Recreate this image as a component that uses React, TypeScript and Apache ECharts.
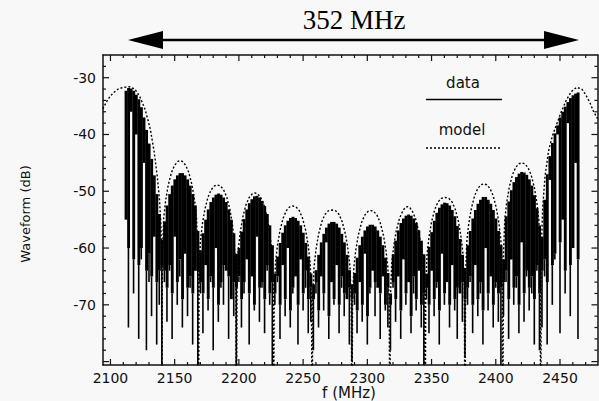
import React, { useEffect, useRef } from "react";
import * as echarts from "echarts";

// ---- data ----
const DATA_START = 2112; // MHz, first spectral line sample
const DATA_STEP = 2; // MHz between samples

// top of each spectral-line sample (dB), lobe by lobe
const dataTop = [
  -32.3, -31.8, -31.9, -32.3, -33.0, -33.8, -35.2, -37.0, -39.2, -41.6, -44.3, -47.2, -50.5, -54.0, -58.5,
  -55.3, -52.5, -50.5, -49.0, -47.9, -47.2, -46.8, -46.8, -47.2, -47.9, -49.0, -50.5, -52.5, -57.0,
  -60.4, -57.4, -55.0, -53.2, -51.9, -51.1, -50.6, -50.4, -50.6, -51.1, -51.9, -53.2, -55.0, -57.4, -61.0,
  -60.0, -57.1, -54.9, -53.2, -52.1, -51.4, -50.9, -50.8, -51.1, -51.7, -52.6, -54.0, -56.0, -59.5,
  -64.5, -61.5, -59.1, -57.3, -56.0, -55.2, -54.7, -54.5, -54.7, -55.2, -56.0, -57.3, -59.1, -61.5, -64.5,
  -66.4, -63.9, -61.2, -59.0, -57.5, -56.4, -55.7, -55.4, -55.4, -55.7, -56.4, -57.5, -59.0, -61.2, -63.9, -66.4,
  -64.4, -61.7, -59.5, -58.0, -56.9, -56.2, -55.9, -55.9, -56.2, -56.9, -58.0, -59.5, -61.7, -64.4,
  -68.0, -61.1, -58.7, -56.9, -55.6, -54.8, -54.3, -54.1, -54.3, -54.8, -55.6, -56.9, -58.7, -61.1,
  -64.5, -59.8, -57.2, -55.2, -53.8, -52.9, -52.3, -52.0, -52.1, -52.5, -53.3, -54.4, -56.1, -58.4, -61.2, -63.5,
  -59.5, -57.0, -54.8, -53.3, -52.2, -51.5, -51.0, -51.0, -51.5, -52.2, -53.3, -54.8, -57.0, -59.5,
  -62.0, -54.4, -51.8, -49.8, -48.4, -47.5, -46.9, -46.6, -46.7, -47.1, -47.9, -49.0, -50.7, -53.0, -56.0,
  -58.0, -51.5, -47.0, -43.8, -41.5, -39.8, -38.4, -37.0, -36.0, -35.1, -34.3, -33.6, -33.1, -32.8, -32.6,
];

// level down to which the dense lines merge into solid black (dB)
const dataSolid = [
  -56, -60, -58, -62, -57, -63, -60, -59, -64, -61, -65, -62, -66, -64, -63,
  -64, -67, -63, -68, -65, -66, -62, -69, -64, -67, -65, -68, -66, -64,
  -66, -68, -63, -69, -65, -67, -64, -70, -66, -63, -68, -65, -69, -66, -67,
  -65, -69, -66, -63, -68, -65, -70, -64, -67, -66, -69, -63, -68, -66,
  -68, -65, -70, -66, -69, -64, -71, -67, -65, -70, -66, -68, -64, -69, -67,
  -69, -66, -71, -67, -68, -65, -72, -66, -69, -67, -70, -65, -68, -71, -67, -69,
  -68, -71, -66, -70, -65, -72, -67, -69, -66, -71, -68, -65, -70, -67,
  -70, -66, -69, -65, -71, -67, -68, -66, -72, -65, -69, -67, -70, -68,
  -67, -70, -65, -69, -66, -71, -64, -68, -66, -70, -65, -69, -67, -71, -66, -69,
  -67, -65, -70, -64, -69, -66, -71, -63, -68, -65, -70, -66, -68, -67,
  -66, -64, -69, -63, -67, -65, -70, -62, -68, -64, -67, -65, -69, -63, -68,
  -64, -62, -66, -60, -63, -61, -65, -59, -62, -64, -60, -63, -61, -58, -62,
];

// lowest point reached by each spectral-line sample (dB)
const dataBottom = [
  -55, -74, -36, -68, -40, -76, -62, -45, -78, -66, -72, -58, -77, -70, -82,
  -66, -73, -64, -76, -58, -70, -65, -74, -61, -72, -67, -77, -64, -82,
  -68, -75, -63, -71, -66, -78, -60, -73, -67, -70, -64, -76, -69, -72, -82,
  -66, -74, -68, -62, -77, -65, -71, -58, -73, -67, -75, -64, -70, -82,
  -70, -66, -76, -63, -72, -60, -74, -68, -65, -77, -62, -71, -67, -75, -73,
  -78, -68, -74, -65, -71, -59, -76, -66, -70, -63, -75, -67, -72, -69, -77, -80,
  -70, -75, -66, -73, -61, -77, -68, -64, -72, -67, -76, -65, -71, -74,
  -78, -67, -73, -65, -76, -62, -70, -66, -75, -68, -71, -64, -74, -82,
  -69, -75, -64, -72, -67, -77, -61, -70, -66, -74, -63, -71, -76, -68, -73, -79,
  -70, -66, -75, -63, -72, -68, -77, -60, -71, -65, -74, -67, -73, -82,
  -72, -66, -76, -62, -70, -67, -75, -59, -73, -65, -71, -68, -77, -64, -78,
  -74, -65, -77, -48, -70, -62, -40, -75, -55, -68, -38, -72, -60, -45, -76,
];

// model envelope (dotted curve)
const modelFreq = [
  2094, 2098, 2102, 2106, 2110, 2115, 2119, 2123, 2127, 2131, 2134, 2136.5, 2138.2, 2139.3, 2139.8, 2140,
  2140.5, 2141.5, 2143, 2145, 2147.5, 2150, 2152.5, 2154.25, 2156, 2158.5, 2161, 2163.5, 2165.5, 2167, 2168, 2168.5,
  2169, 2170, 2171.5, 2173.5, 2176, 2178.5, 2181, 2183.25, 2185.5, 2188, 2190.5, 2193, 2195, 2196.5, 2197.5, 2198,
  2198.5, 2199.5, 2201, 2203, 2205.5, 2208, 2210.5, 2212.5, 2214.5, 2217, 2219.5, 2222, 2224, 2225.5, 2226.5, 2227,
  2227.5, 2228.5, 2230, 2232, 2234.5, 2237, 2239.5, 2242, 2244.5, 2247, 2249.5, 2252, 2254, 2255.5, 2256.5, 2257,
  2257.5, 2258.5, 2260, 2262, 2264.5, 2267, 2269.5, 2272.5, 2275.5, 2278, 2280.5, 2283, 2285, 2286.5, 2287.5, 2288,
  2288.5, 2289.5, 2291, 2293, 2295.5, 2298, 2300.5, 2302.75, 2305, 2307.5, 2310, 2312.5, 2314.5, 2316, 2317, 2317.5,
  2318, 2319, 2320.5, 2322.5, 2325, 2327.5, 2329.5, 2331.25, 2333, 2335, 2337.5, 2340, 2342, 2343.5, 2344.5, 2345,
  2345.5, 2346.5, 2348, 2350, 2352.5, 2355, 2357.5, 2360.5, 2363.5, 2366, 2368.5, 2371, 2373, 2374.5, 2375.5, 2376,
  2376.5, 2377.5, 2379, 2381, 2383.5, 2386, 2388.5, 2390.75, 2393, 2395.5, 2398, 2400.5, 2402.5, 2404, 2405, 2405.5,
  2406, 2407, 2408.5, 2410.5, 2413, 2415.5, 2418, 2420.25, 2422.5, 2425, 2427.5, 2430, 2432, 2433.5, 2434.5, 2435,
  2435.5, 2436.5, 2438.3, 2441, 2444, 2447.4, 2451, 2455, 2459, 2463, 2467, 2470, 2473.3, 2476, 2479.2,
];
const modelDb = [
  -35.5, -33.8, -32.7, -32.0, -31.7, -31.6, -32.0, -33.4, -35.6, -39.0, -43.0, -47.5, -51.5, -56.0, -62.0, -95,
  -60.6, -54.6, -51.6, -48.9, -46.7, -45.4, -44.75, -44.6, -44.75, -45.4, -46.7, -48.9, -51.6, -54.6, -60.6, -95,
  -64.9, -58.9, -55.9, -53.2, -51.0, -49.7, -49.05, -48.9, -49.05, -49.7, -51.0, -53.2, -55.9, -58.9, -64.9, -95,
  -66.3, -60.3, -57.3, -54.6, -52.4, -51.1, -50.45, -50.3, -50.45, -51.1, -52.4, -54.6, -57.3, -60.3, -66.3, -95,
  -68.6, -62.6, -59.6, -56.9, -54.7, -53.4, -52.75, -52.6, -52.75, -53.4, -54.7, -56.9, -59.6, -62.6, -68.6, -95,
  -69.3, -63.3, -60.3, -57.6, -55.4, -54.1, -53.45, -53.3, -53.45, -54.1, -55.4, -57.6, -60.3, -63.3, -69.3, -95,
  -69.4, -63.4, -60.4, -57.7, -55.5, -54.2, -53.55, -53.4, -53.55, -54.2, -55.5, -57.7, -60.4, -63.4, -69.4, -95,
  -68.7, -62.7, -59.7, -57.0, -54.8, -53.5, -52.85, -52.7, -52.85, -53.5, -54.8, -57.0, -59.7, -62.7, -68.7, -95,
  -67.1, -61.1, -58.1, -55.4, -53.2, -51.9, -51.25, -51.1, -51.25, -51.9, -53.2, -55.4, -58.1, -61.1, -67.1, -95,
  -64.7, -58.7, -55.7, -53.0, -50.8, -49.5, -48.85, -48.7, -48.85, -49.5, -50.8, -53.0, -55.7, -58.7, -64.7, -95,
  -61.0, -55.0, -52.0, -49.3, -47.1, -45.8, -45.15, -45.0, -45.15, -45.8, -47.1, -49.3, -52.0, -55.0, -61.0, -95,
  -60.0, -53.0, -47.5, -43.0, -40.3, -38.2, -36.0, -33.9, -32.4, -31.7, -32.0, -33.0, -34.4, -35.9, -37.2,
];

// axis ticks / labels
const xMajor = [2100, 2150, 2200, 2250, 2300, 2350, 2400, 2450];
const xMinor = [
  2110, 2120, 2130, 2140, 2160, 2170, 2180, 2190, 2210, 2220, 2230, 2240, 2260, 2270, 2280, 2290,
  2310, 2320, 2330, 2340, 2360, 2370, 2380, 2390, 2410, 2420, 2430, 2440, 2460, 2470,
];
const yMajor = [-80, -70, -60, -50, -40, -30];
const yLabels = [-70, -60, -50, -40, -30];
const yMinor = [
  -78, -76, -74, -72, -68, -66, -64, -62, -58, -56, -54, -52, -48, -46, -44, -42, -38, -36, -34, -32, -28,
];

const X_MIN = 2094.2;
const X_MAX = 2479.2;
const Y_MIN = -80.6;
const Y_MAX = -26;

const FONT = "DejaVu Sans";
const INK = "#111";

export default function App() {
  const ref = useRef<HTMLDivElement>(null);

  useEffect(() => {
    if (!ref.current) return;
    document.body.style.margin = "0";
    document.body.style.background = "#f8f8f8";
    const chart = echarts.init(ref.current, undefined, { renderer: "svg" });

    const lines = dataTop.map((t, i) => [DATA_START + i * DATA_STEP, t, dataBottom[i], dataSolid[i]]);
    const model = modelFreq.map((f, i) => [f, modelDb[i]]);

    const axisX = (position: string, labels: boolean) => ({
      type: "value",
      position,
      min: X_MIN,
      max: X_MAX,
      axisLine: { show: true, onZero: false, lineStyle: { color: INK, width: 1.5 } },
      axisTick: { show: false },
      axisLabel: labels
        ? {
            show: true,
            customValues: xMajor,
            formatter: (v: number) => String(v),
            color: INK,
            fontSize: 14,
            fontFamily: FONT,
            margin: 6,
          }
        : { show: false },
      splitLine: { show: false },
    });
    const axisY = (position: string, labels: boolean) => ({
      type: "value",
      position,
      min: Y_MIN,
      max: Y_MAX,
      axisLine: { show: true, onZero: false, lineStyle: { color: INK, width: 1.5 } },
      axisTick: { show: false },
      axisLabel: labels
        ? {
            show: true,
            customValues: yLabels,
            formatter: (v: number) => String(v),
            color: INK,
            fontSize: 14,
            fontFamily: FONT,
            margin: 7,
          }
        : { show: false },
      splitLine: { show: false },
    });

    chart.setOption({
      animation: false,
      backgroundColor: "#f8f8f8",
      grid: { left: 103, right: 1.5, top: 55, bottom: 36, containLabel: false },
      xAxis: [axisX("bottom", true), axisX("top", false)],
      yAxis: [axisY("left", true), axisY("right", false)],
      series: [
        {
          type: "custom",
          name: "data",
          xAxisIndex: 0,
          yAxisIndex: 0,
          clip: true,
          z: 2,
          data: lines,
          renderItem: (params: any, api: any) => {
            const f = api.value(0);
            const top = api.value(1);
            const bot = api.value(2);
            const solid = api.value(3);
            const solidEnd = Math.min(top, Math.max(bot, solid));
            const pT = api.coord([f, top]);
            const pS = api.coord([f, solidEnd]);
            const pB = api.coord([f, bot]);
            const w = api.size([DATA_STEP, 0])[0];
            const children: any[] = [
              {
                type: "rect",
                shape: { x: pT[0] - w / 2, y: pT[1], width: w + 0.3, height: pS[1] - pT[1] },
                style: { fill: "#000" },
              },
            ];
            if (pB[1] > pS[1]) {
              children.push({
                type: "rect",
                shape: { x: pT[0] - 0.8, y: pS[1], width: 1.6, height: pB[1] - pS[1] },
                style: { fill: "#000" },
              });
            }
            return { type: "group", children };
          },
        },
        {
          type: "line",
          name: "model",
          xAxisIndex: 0,
          yAxisIndex: 0,
          data: model,
          showSymbol: false,
          clip: true,
          z: 3,
          lineStyle: { color: "#000", width: 1.4, type: [2, 2] },
        },
      ],
    });

    // tick marks (inside, on all four sides) placed through the axes' own scales
    const px = (v: number) => chart.convertToPixel({ xAxisIndex: 0 }, v) as number;
    const py = (v: number) => chart.convertToPixel({ yAxisIndex: 0 }, v) as number;
    const left = px(X_MIN);
    const right = px(X_MAX);
    const top = py(Y_MAX);
    const bottom = py(Y_MIN);
    const tick = (x1: number, y1: number, x2: number, y2: number) => ({
      type: "line",
      silent: true,
      shape: { x1, y1, x2, y2 },
      style: { stroke: INK, lineWidth: 1.2 },
      z: 10,
    });
    const ticks: any[] = [];
    xMajor.forEach((v) => {
      const x = px(v);
      ticks.push(tick(x, bottom, x, bottom - 6), tick(x, top, x, top + 6));
    });
    xMinor.forEach((v) => {
      const x = px(v);
      ticks.push(tick(x, bottom, x, bottom - 3), tick(x, top, x, top + 3));
    });
    yMajor.forEach((v) => {
      const y = py(v);
      ticks.push(tick(left, y, left + 6, y), tick(right, y, right - 6, y));
    });
    yMinor.forEach((v) => {
      const y = py(v);
      ticks.push(tick(left, y, left + 3, y), tick(right, y, right - 3, y));
    });

    chart.setOption({
      graphic: [
        ...ticks,
        {
          type: "text",
          x: 354,
          y: 20,
          style: {
            text: "352 MHz",
            font: "27px 'Liberation Serif'",
            fill: "#000",
            align: "center",
            verticalAlign: "middle",
          },
        },
        { type: "line", shape: { x1: 150, y1: 40, x2: 556, y2: 40 }, style: { stroke: "#000", lineWidth: 2.5 } },
        { type: "polygon", shape: { points: [[128, 40], [163, 31], [163, 49]] }, style: { fill: "#000" } },
        { type: "polygon", shape: { points: [[579, 40], [544, 31], [544, 49]] }, style: { fill: "#000" } },
        {
          type: "text",
          x: 463,
          y: 83,
          style: { text: "data", font: `15px '${FONT}'`, fill: INK, align: "center", verticalAlign: "middle" },
        },
        { type: "line", shape: { x1: 426, y1: 99.5, x2: 502, y2: 99.5 }, style: { stroke: "#000", lineWidth: 1.5 } },
        {
          type: "text",
          x: 462,
          y: 130,
          style: { text: "model", font: `15px '${FONT}'`, fill: INK, align: "center", verticalAlign: "middle" },
        },
        {
          type: "line",
          shape: { x1: 426, y1: 148, x2: 502, y2: 148 },
          style: { stroke: "#000", lineWidth: 1.4, lineDash: [2, 2] },
        },
        {
          type: "text",
          x: 25,
          y: 214,
          rotation: Math.PI / 2,
          style: {
            text: "Waveform (dB)",
            font: `13px '${FONT}'`,
            fill: INK,
            align: "center",
            verticalAlign: "middle",
          },
        },
        {
          type: "text",
          x: 349,
          y: 393,
          style: { text: "f (MHz)", font: `15px '${FONT}'`, fill: INK, align: "center", verticalAlign: "middle" },
        },
      ],
    });

    return () => chart.dispose();
  }, []);

  return (
    <div
      ref={ref}
      style={{ position: "fixed", left: 0, top: 0, width: 599, height: 401, background: "#f8f8f8" }}
    />
  );
}
